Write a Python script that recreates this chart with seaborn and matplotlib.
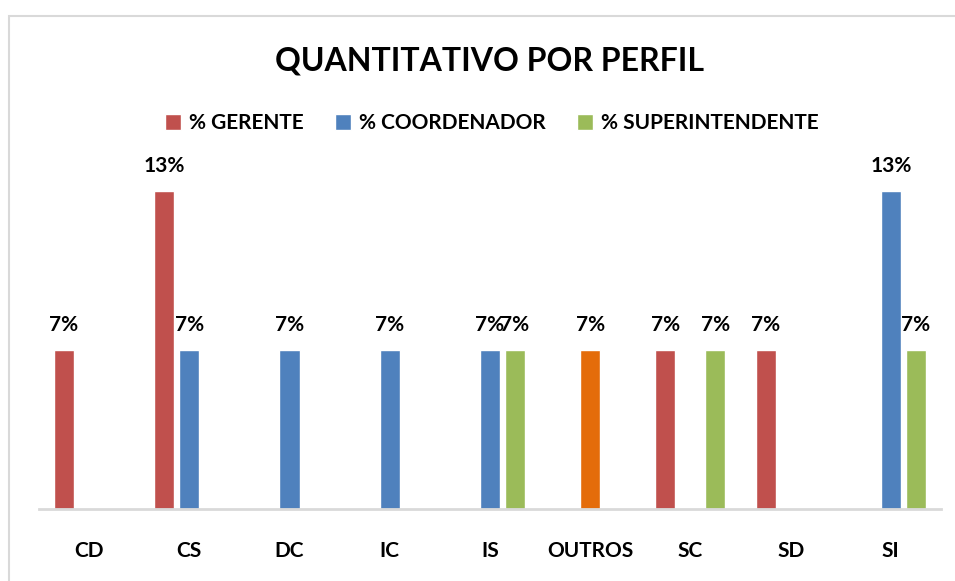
import pandas as pd
import seaborn as sns
import matplotlib.pyplot as plt
from matplotlib.patches import Rectangle

# chart data
categorias = ["CD", "CS", "DC", "IC", "IS", "OUTROS", "SC", "SD", "SI"]
series = ["% GERENTE", "% COORDENADOR", "% SUPERINTENDENTE"]
gerente = [1/15, 2/15, None, None, None, None, 1/15, 1/15, None]
coordenador = [None, 1/15, 1/15, 1/15, 1/15, 1/15, None, None, 2/15]
superintendente = [None, None, None, None, 1/15, None, 1/15, None, 1/15]
cores = ["#C0504D", "#4F81BD", "#9BBB59"]
cor_outros = "#E46C0A"

# long table for seaborn, missing values dropped
rows = []
for nome, valores in zip(series, [gerente, coordenador, superintendente]):
    for cat, v in zip(categorias, valores):
        if v is not None:
            rows.append({"perfil": cat, "serie": nome, "valor": v})
df = pd.DataFrame(rows)

sns.set_style("white")
plt.rcParams["font.family"] = ["Lato", "DejaVu Sans"]
plt.rcParams["font.weight"] = "bold"
plt.rcParams["text.color"] = "black"
plt.rcParams["xtick.color"] = "black"

fig = plt.figure(figsize=(9.55, 5.81), dpi=100)
ax = fig.add_axes([0.0408, 0.1239, 0.9445, 0.6162])

sns.barplot(data=df, x="perfil", y="valor", hue="serie", order=categorias,
            hue_order=series, palette=cores, width=0.75, gap=0.2,
            saturation=1, errorbar=None, ax=ax)

# OUTROS bar shown in orange in the original
for bar in ax.containers[1]:
    cx = bar.get_x() + bar.get_width() / 2
    if abs(cx - categorias.index("OUTROS")) < 0.1:
        bar.set_facecolor(cor_outros)

# data labels
for cont in ax.containers:
    ax.bar_label(cont, labels=[f"{b.get_height()*100:.0f}%" for b in cont],
                 padding=11, fontsize=15, fontweight="bold", color="black")

ax.set_ylim(0, 0.15)
ax.set_xlim(-0.5, len(categorias) - 0.5)
ax.set_xlabel("")
ax.set_ylabel("")
ax.set_yticks([])
ax.tick_params(axis="x", length=0, pad=23, labelsize=15, labelcolor="black")
for lbl in ax.get_xticklabels():
    lbl.set_fontweight("bold")
sns.despine(ax=ax, left=True)
ax.spines["bottom"].set_color("#D9D9D9")
ax.spines["bottom"].set_linewidth(2)

# legend and title
handles, labels = ax.get_legend_handles_labels()
ax.get_legend().remove()
fig.legend(handles, labels, loc="center", bbox_to_anchor=(0.515, 0.788), ncol=3,
           frameon=False, handlelength=0.75, handleheight=0.75,
           handletextpad=0.4, columnspacing=1.5, labelcolor="black",
           prop={"weight": "bold", "size": 15})
fig.text(0.513, 1 - 61 / 581, "QUANTITATIVO POR PERFIL", ha="center", va="center",
         fontsize=23, fontweight="bold", color="black")

# chart frame
fig.patches.append(Rectangle((9 / 955, -0.05), 1.1, 1 - 16 / 581 + 0.05,
                             transform=fig.transFigure, fill=False,
                             edgecolor="#D9D9D9", linewidth=1.5))

fig.savefig("out.png", dpi=100)
